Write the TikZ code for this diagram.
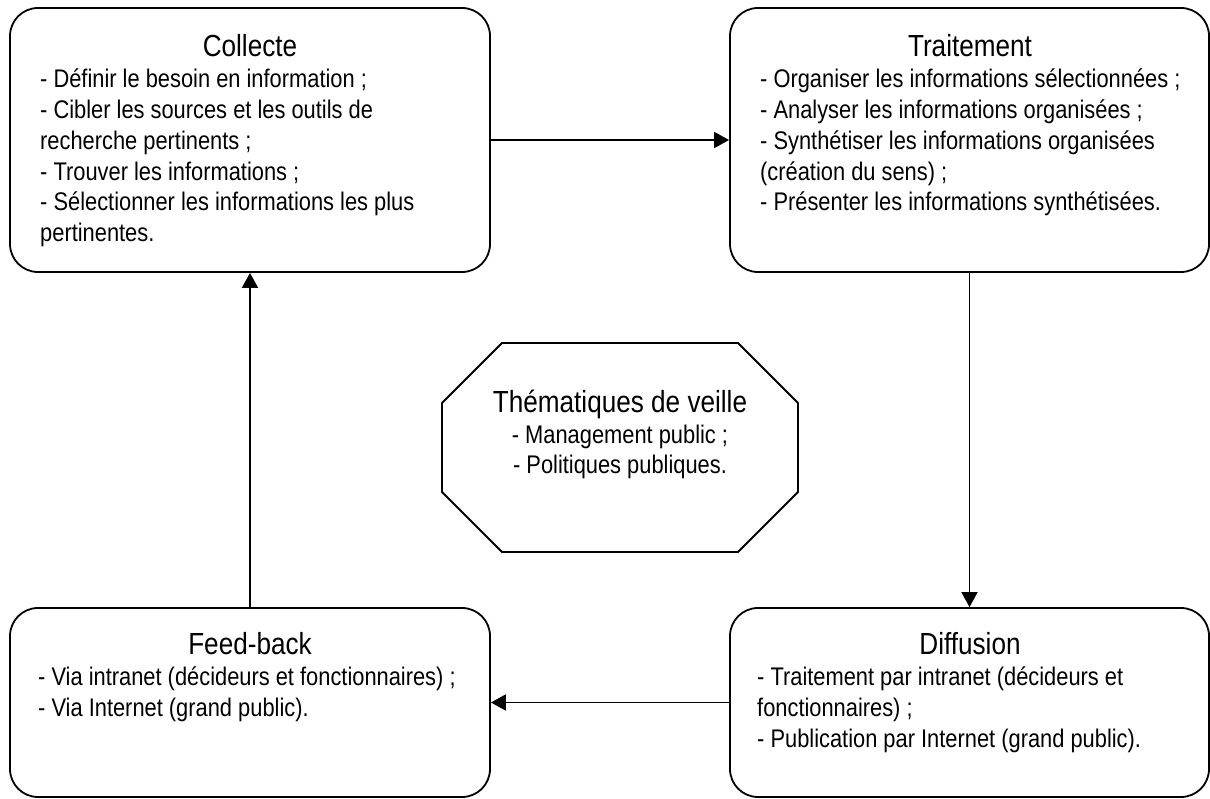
\documentclass[tikz,border=0pt]{standalone}
\usepackage{fontspec}
\setmainfont{Liberation Sans}[FakeStretch=0.857]
\usetikzlibrary{arrows.meta}
\tikzset{
    stage/.style={
        draw,
        line width=1.8pt,
        rounded corners=28pt,
        inner sep=0pt
    },
    stage title/.style={font=\fontsize{30.5}{36}\selectfont, anchor=base, inner sep=0pt},
    stage item/.style={font=\fontsize{25.5}{30.8}\selectfont, anchor=base west, inner sep=0pt},
    flow/.style={line width=1.8pt, -{Triangle[length=15pt,width=16pt]}}
}

\begin{document}
\begin{tikzpicture}[x=1pt,y=-1pt]
    \useasboundingbox (0,0) rectangle (1210,799);
    % the four stages
    \node[stage, minimum width=480pt, minimum height=264pt] (collecte) at (250,140) {};
    \node[stage, minimum width=479pt, minimum height=264pt] (traitement) at (969.5,140) {};
    \node[stage, minimum width=479pt, minimum height=189pt] (diffusion) at (969.5,702.5) {};
    \node[stage, minimum width=480pt, minimum height=189pt] (feedback) at (250,702.5) {};
    % texts
    \node[stage title] (collecte-t) at (250,57) {Collecte};
    \foreach \t [count=\i] in {{- Définir le besoin en information ;},{- Cibler les sources et les outils de},{recherche pertinents ;},{- Trouver les informations ;},{- Sélectionner les informations les plus},{pertinentes.}}
        \node[stage item] (collecte-\i) at (40,57+30.8*\i) {\t};
    \node[stage title] (traitement-t) at (970,57) {Traitement};
    \foreach \t [count=\i] in {{- Organiser les informations sélectionnées ;},{- Analyser les informations organisées ;},{- Synthétiser les informations organisées},{(création du sens) ;},{- Présenter les informations synthétisées.}}
        \node[stage item] (traitement-\i) at (760,57+30.8*\i) {\t};
    \node[stage title] (diffusion-t) at (970,654) {Diffusion};
    \foreach \t [count=\i] in {{- Traitement par intranet (décideurs et},{fonctionnaires) ;},{- Publication par Internet (grand public).}}
        \node[stage item] (diffusion-\i) at (757,654+31*\i) {\t};
    \node[stage title] (feedback-t) at (250,654) {Feed-back};
    \foreach \t [count=\i] in {{- Via intranet (décideurs et fonctionnaires) ;},{- Via Internet (grand public).}}
        \node[stage item] (feedback-\i) at (38,654+31*\i) {\t};
    % veille
    \draw[line width=1.8pt] (502,343) -- (738,343) -- (798,403) -- (798,492) -- (738,552)
        -- (502,552) -- (442,492) -- (442,403) -- cycle;
    \node[stage title] (veille-t) at (620,412) {Thématiques de veille};
    \node[stage item, anchor=base] (veille-1) at (620,443) {- Management public ;};
    \node[stage item, anchor=base] (veille-2) at (620,473) {- Politiques publiques.};
    % cycle
    \draw[flow] (collecte) -- (traitement);
    \draw[flow] (traitement) -- (diffusion);
    \draw[flow] (diffusion) -- (feedback);
    \draw[flow] (feedback) -- (collecte);
\end{tikzpicture}
\end{document}
